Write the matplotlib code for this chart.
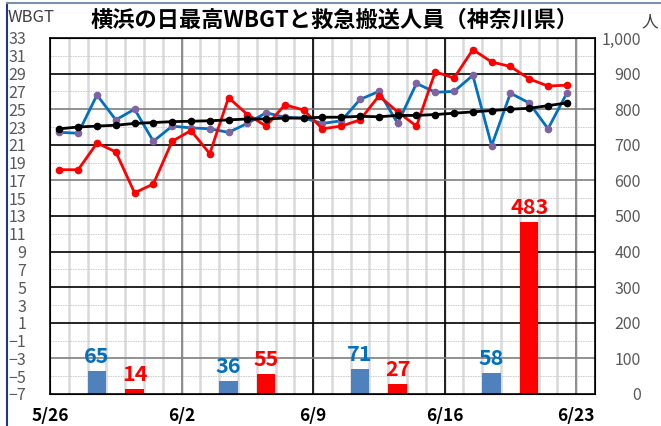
import numpy as np
import matplotlib.pyplot as plt
from matplotlib.lines import Line2D

plt.rcParams['font.family'] = ['Noto Sans CJK JP', 'DejaVu Sans']

# daily max WBGT, 5/26 - 6/22
wbgt_this = [18.2, 18.2, 21.2, 20.2, 15.6, 16.6, 21.4, 22.6, 20.0, 26.3,
             24.4, 23.1, 25.5, 24.9, 22.8, 23.1, 23.8, 26.5, 24.7, 23.1,
             29.2, 28.5, 31.7, 30.3, 29.8, 28.4, 27.6, 27.7]
wbgt_other = [22.4, 22.3, 26.6, 23.8, 25.0, 21.4, 23.1, 22.9, 22.8, 22.4,
              23.4, 24.6, 24.1, 24.0, 23.4, 23.7, 26.1, 27.0, 23.4, 27.9,
              26.9, 27.0, 28.8, 20.9, 26.8, 25.7, 22.8, 26.8]
wbgt_normal = [22.8, 23.0, 23.1, 23.2, 23.4, 23.5, 23.6, 23.65, 23.7, 23.8,
               23.9, 23.9, 24.0, 24.0, 24.1, 24.1, 24.2, 24.15, 24.3, 24.3,
               24.4, 24.55, 24.7, 24.85, 25.0, 25.1, 25.4, 25.7]

week_labels = ['5/26', '6/2', '6/9', '6/16', '6/23']

# weekly emergency transports (day index from 5/26)
blue_bar_day = [2, 9, 16, 23]
blue_bar_val = [65, 36, 71, 58]
red_bar_day = [4, 11, 18, 25]
red_bar_val = [14, 55, 27, 483]

days = np.arange(len(wbgt_this)) + 0.5

fig = plt.figure(figsize=(6.61, 4.26), dpi=100)
ax = fig.add_axes([50 / 661, 32 / 426, 545 / 661, 356 / 426])
ax2 = ax.twinx()
ax.set_zorder(ax2.get_zorder() + 1)
ax.patch.set_visible(False)

ax.set_xlim(0, 29)
ax.set_ylim(-7, 33)
ax2.set_ylim(0, 1000)

# grid (drawn on the bar axis, underneath everything)
for d in range(1, 29):
    ax2.axvline(d, color='#d9d9d9', lw=1.8, zorder=0.5)
for d, c in zip([7, 14, 21, 28], ['#7f7f7f', 'black', 'black', '#7f7f7f']):
    ax2.axvline(d, color=c, lw=1.2, zorder=0.6)
for v in range(50, 1000, 100):
    ax2.axhline(v, color='#c8c8c8', lw=0.6, ls=(0, (2, 1)), zorder=0.5)
for v in range(100, 1000, 100):
    c = '#7f7f7f' if v in (100, 600, 800) else 'black'
    ax2.axhline(v, color=c, lw=1.2, zorder=0.6)

# bars
b1 = ax2.bar(np.array(blue_bar_day) + 0.5, blue_bar_val, width=0.98,
             color='#4f81bd', zorder=2)
b2 = ax2.bar(np.array(red_bar_day) + 0.5, red_bar_val, width=0.98,
             color='#ff0000', zorder=2)
ax2.bar_label(b1, padding=3, color='#0070c0', fontsize=15.5, fontweight='bold')
ax2.bar_label(b2, padding=3, color='#ff0000', fontsize=15.5, fontweight='bold')

# lines
ax.plot(days, wbgt_other, '-o', color='#0070c0', lw=2, ms=4.5,
        mfc='#8064a2', mec='#8064a2', zorder=3)
ax.plot(days, wbgt_this, '-o', color='#ff0000', lw=2, ms=4.5, zorder=4)
ax.plot(days, wbgt_normal, '-o', color='black', lw=2, ms=4.5, zorder=5)

# ticks
ax.set_xticks([0, 7, 14, 21, 28], week_labels)
ax.tick_params(axis='x', length=0, pad=9, labelsize=12.5, labelcolor='black')
for t in ax.get_xticklabels():
    t.set_fontweight('bold')
yt = list(range(-7, 34, 2))
ax.set_yticks(yt, [str(v).replace('-', '\u2212') for v in yt])
ax.tick_params(axis='y', length=0, pad=17, labelsize=11.5, labelcolor='#595959')

rt = list(range(0, 1001, 100))
ax2.set_yticks(rt, [f'{v:,}' for v in rt])
ax2.tick_params(axis='y', length=0, pad=33, labelsize=11.5, labelcolor='#595959')
for t in ax2.get_yticklabels():
    t.set_ha('right')

for s in ax.spines.values():
    s.set_color('black')
    s.set_linewidth(1.2)

fig.text(335 / 661, 1 - 20 / 426, '横浜の日最高WBGTと救急搬送人員（神奈川県）',
         ha='center', va='center', fontsize=16, fontweight='bold')
fig.text(8 / 661, 1 - 18 / 426, 'WBGT', ha='left', va='center',
         fontsize=12, color='#404040')
fig.text(650 / 661, 1 - 22 / 426, '人', ha='center', va='center',
         fontsize=12, color='#404040')

# outer frame
fig.add_artist(Line2D([7 / 661, 7 / 661], [0, 1 - 3 / 426], color='#1f3a7a', lw=1.5))
fig.add_artist(Line2D([7 / 661, 1], [1 - 3 / 426, 1 - 3 / 426], color='#7a8fb0', lw=1.5))

fig.savefig('out.png', dpi=100)
